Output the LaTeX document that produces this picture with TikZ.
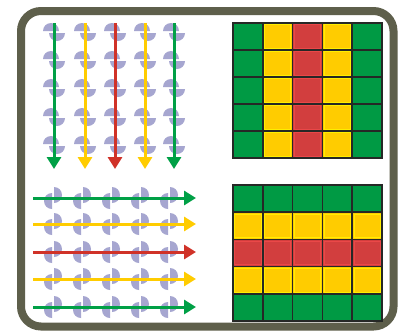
\documentclass[tikz,border=0pt]{standalone}
\usetikzlibrary{arrows.meta}

\definecolor{frameolive}{RGB}{94,95,75}
\definecolor{cellgreen}{RGB}{0,154,68}
\definecolor{cellyellow}{RGB}{255,204,0}
\definecolor{cellred}{RGB}{210,62,62}
\definecolor{arrowgreen}{RGB}{0,160,70}
\definecolor{arrowred}{RGB}{208,50,40}
\definecolor{spinblue}{RGB}{166,166,208}
\definecolor{gridline}{RGB}{38,40,38}
\definecolor{hiyellow}{RGB}{255,238,0}
\definecolor{hired}{RGB}{234,72,72}

\begin{document}
\begin{tikzpicture}[
  x=1pt, y=-1pt,
  >={Triangle[length=12pt,width=14pt]},
  flow/.style={->, line width=3pt},
  spin/.style={fill=spinblue},
  cell/.style={draw=gridline, line width=1.5pt},
]
\useasboundingbox (0,0) rectangle (401,333);
\fill[white] (0,0) rectangle (401,333);

% frame
\draw[frameolive, line width=8pt, rounded corners=20pt] (21,11) rectangle (393.5,326.5);

% vertical flows with spins
\foreach \x/\col [count=\i] in {54/arrowgreen,85/cellyellow,115/arrowred,145/cellyellow,174/arrowgreen} {
  \foreach \y in {32,60,88,117,145} {
    \fill[spin] (\x-11,\y-1) arc[start angle=180,end angle=360,radius=8] -- cycle;
    \fill[spin] (\x-5,\y+1) arc[start angle=180,end angle=0,radius=8] -- cycle;
  }
  \coordinate (v\i top) at (\x,23);
  \coordinate (v\i end) at (\x,169);
  \draw[flow, \col] (v\i top) -- (v\i end);
}

% horizontal flows with spins
\foreach \y/\col [count=\i] in {198/arrowgreen,224/cellyellow,252/arrowred,279/cellyellow,307/arrowgreen} {
  \foreach \x in {53,82,111,140,169} {
    \fill[spin] (\x+1,\y-11) arc[start angle=-90,end angle=90,radius=8] -- cycle;
    \fill[spin] (\x-1,\y+11) arc[start angle=90,end angle=270,radius=8] -- cycle;
  }
  \coordinate (h\i start) at (33,\y);
  \coordinate (h\i end) at (196,\y);
  \draw[flow, \col] (h\i start) -- (h\i end);
}

% upper grid: colour by column
\foreach \c/\col/\hi in {0/cellgreen/cellgreen,1/cellyellow/hiyellow,2/cellred/hired,3/cellyellow/hiyellow,4/cellgreen/cellgreen} {
  \foreach \r in {0,...,4} {
    \fill[\col] (233+\c*29.8,23+\r*27) rectangle ++(29.8,27);
    \draw[\hi, line width=1pt] (234.8+\c*29.8,24.8+\r*27) rectangle ++(26.2,23.4);
    \draw[cell] (233+\c*29.8,23+\r*27) rectangle ++(29.8,27);
  }
}

% lower grid: colour by row
\foreach \r/\col/\hi in {0/cellgreen/cellgreen,1/cellyellow/hiyellow,2/cellred/hired,3/cellyellow/hiyellow,4/cellgreen/cellgreen} {
  \foreach \c in {0,...,4} {
    \fill[\col] (233+\c*29.8,185+\r*27.2) rectangle ++(29.8,27.2);
    \draw[\hi, line width=1pt] (234.8+\c*29.8,186.8+\r*27.2) rectangle ++(26.2,23.6);
    \draw[cell] (233+\c*29.8,185+\r*27.2) rectangle ++(29.8,27.2);
  }
}
\end{tikzpicture}
\end{document}
